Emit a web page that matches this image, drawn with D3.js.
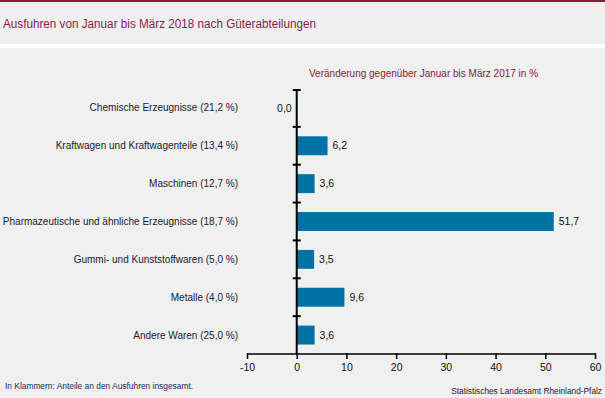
<!DOCTYPE html>
<html>
<head>
<meta charset="utf-8">
<script src="https://cdn.jsdelivr.net/npm/d3@7"></script>
<style>
  body { margin: 0; background: #f0f0f0; }
  svg { display: block; font-family: "Liberation Sans", Arial, sans-serif; }
</style>
</head>
<body>
<svg id="chart"></svg>
<script>
'use strict';

const categories = [
  'Chemische Erzeugnisse (21,2 %)',
  'Kraftwagen und Kraftwagenteile (13,4 %)',
  'Maschinen (12,7 %)',
  'Pharmazeutische und ähnliche Erzeugnisse (18,7 %)',
  'Gummi- und Kunststoffwaren (5,0 %)',
  'Metalle (4,0 %)',
  'Andere Waren (25,0 %)'
];
const values = [0.0, 6.2, 3.6, 51.7, 3.5, 9.6, 3.6];
const xTicks = [-10, 0, 10, 20, 30, 40, 50, 60];

const W = 605, H = 398;
const margin = { top: 89, left: 247, right: 10, bottom: 44 };
const width = W - margin.left - margin.right;
const height = H - margin.top - margin.bottom;

const svg = d3.select('#chart').attr('width', W).attr('height', H);

// header band
svg.append('rect').attr('width', W).attr('height', H).attr('fill', '#f0f0f0');
svg.append('rect').attr('width', W).attr('height', 45).attr('fill', '#efefef');
svg.append('rect').attr('y', 44).attr('width', W).attr('height', 4).attr('fill', '#fff');
svg.append('rect').attr('width', W).attr('height', 2).attr('fill', '#8a1c36');

svg.append('text')
  .attr('x', 3).attr('y', 28)
  .attr('font-size', 12)
  .attr('fill', '#8a1c50')
  .attr('textLength', 313)
  .attr('lengthAdjust', 'spacingAndGlyphs')
  .text('Ausfuhren von Januar bis März 2018 nach Güterabteilungen');

svg.append('text')
  .attr('x', 309).attr('y', 77)
  .attr('font-size', 10)
  .attr('fill', '#8a1c36')
  .text('Veränderung gegenüber Januar bis März 2017 in %');

const graph = svg.append('g')
  .attr('transform', `translate(${margin.left}, ${margin.top})`);

const x = d3.scaleLinear()
  .domain([-10, 60])
  .range([0, width]);

const y = d3.scaleBand()
  .domain(categories)
  .range([0, height])
  .paddingInner(0.5)
  .paddingOuter(0.25);

// bars
graph.append('g')
  .attr('fill', '#0072a3')
  .selectAll('rect')
  .data(values)
  .enter().append('rect')
    .attr('x', d => x(Math.min(0, d)))
    .attr('y', (d, i) => y(categories[i]))
    .attr('width', d => Math.abs(x(d) - x(0)))
    .attr('height', y.bandwidth());

// value labels
graph.append('g')
  .attr('font-size', 10.5)
  .attr('fill', '#111')
  .selectAll('text')
  .data(values)
  .enter().append('text')
    .attr('x', d => d > 0 ? x(d) + 5 : x(0) - 5)
    .attr('y', (d, i) => y(categories[i]) + y.bandwidth() / 2)
    .attr('dy', '0.35em')
    .attr('text-anchor', d => d > 0 ? 'start' : 'end')
    .text(d => d3.format('.1f')(d).replace('.', ','));

// category labels
graph.append('g')
  .attr('font-size', 10)
  .attr('fill', '#1a1a2e')
  .selectAll('text')
  .data(categories)
  .enter().append('text')
    .attr('x', -9)
    .attr('y', d => y(d) + y.bandwidth() / 2)
    .attr('dy', '0.35em')
    .attr('text-anchor', 'end')
    .text(d => d);

// x axis
const xAxis = d3.axisBottom(x)
  .tickValues(xTicks)
  .tickSize(5)
  .tickFormat(d => d);

const gx = graph.append('g')
  .attr('transform', `translate(0, ${height})`)
  .call(xAxis);
gx.select('.domain').attr('stroke', '#000').attr('stroke-width', 1.5).attr('d', `M${x(-10)},0H${x(60)}`);
gx.selectAll('.tick line').attr('stroke', '#000').attr('stroke-width', 1.5).attr('y1', -1);
gx.selectAll('.tick text')
  .attr('font-family', '"Liberation Sans", Arial, sans-serif')
  .attr('font-size', 10.5)
  .attr('fill', '#111')
  .attr('dy', '0.9em');

// zero line with category ticks
const zero = graph.append('g').attr('stroke', '#000').attr('stroke-width', 2);
zero.append('line')
  .attr('x1', x(0)).attr('x2', x(0))
  .attr('y1', 0).attr('y2', height);
const bounds = d3.range(categories.length).map(i => i * y.step());
zero.selectAll('.btick')
  .data(bounds)
  .enter().append('line')
    .attr('x1', x(0) - 4).attr('x2', x(0) + 4)
    .attr('y1', d => d === 0 ? 1 : d).attr('y2', d => d === 0 ? 1 : d);

// footnotes
svg.append('text')
  .attr('x', 5).attr('y', 389)
  .attr('font-size', 8.4)
  .attr('fill', '#1a2a5a')
  .text('In Klammern: Anteile an den Ausfuhren insgesamt.');

svg.append('text')
  .attr('x', 602).attr('y', 394)
  .attr('text-anchor', 'end')
  .attr('font-size', 8.3)
  .attr('fill', '#1a1a2e')
  .text('Statistisches Landesamt Rheinland-Pfalz');
</script>
</body>
</html>
